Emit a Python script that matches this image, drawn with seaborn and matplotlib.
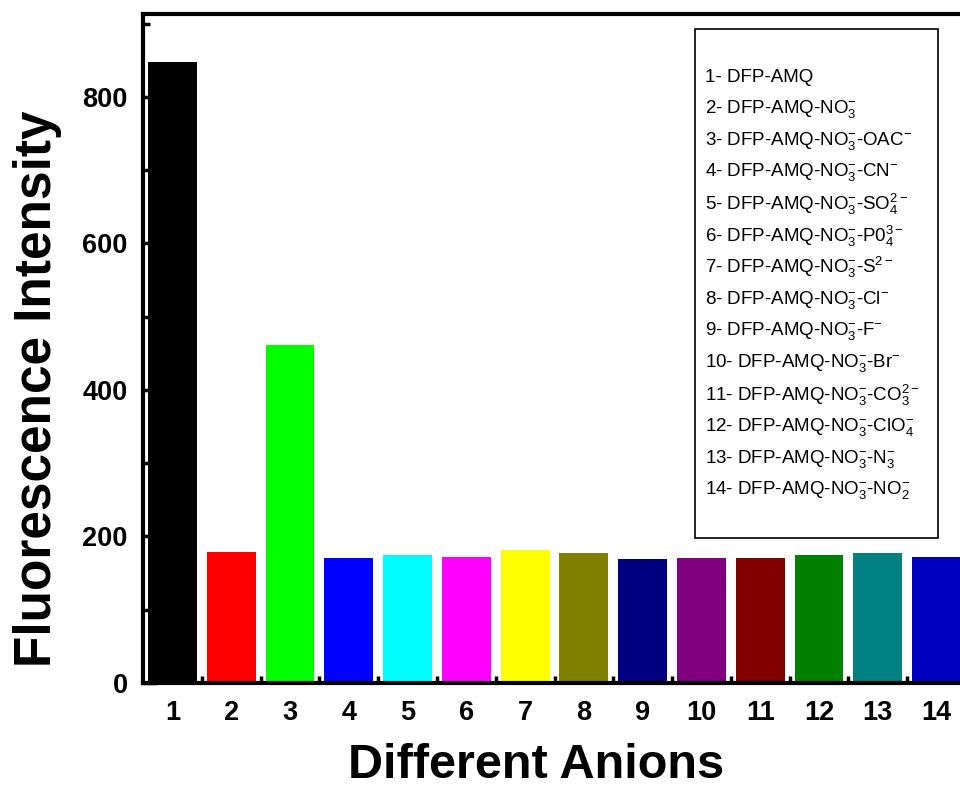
import matplotlib
matplotlib.use("Agg")
import matplotlib.pyplot as plt
import seaborn as sns
import pandas as pd
import numpy as np
from matplotlib.ticker import MultipleLocator, FixedLocator
from matplotlib.patches import Rectangle

categories = [str(i) for i in range(1, 15)]
values = [848, 179, 461, 171, 175, 172, 181, 177, 169, 171, 171, 175, 177, 172]
colors = ["#000000", "#FF0000", "#00FF00", "#0000FF", "#00FFFF", "#FF00FF",
          "#FFFF00", "#808000", "#000080", "#800080", "#800000", "#008000",
          "#008080", "#0000C0"]
legend_labels = [
    "1- DFP-AMQ",
    "2- DFP-AMQ-NO$_3^{-}$",
    "3- DFP-AMQ-NO$_3^{-}$-OAC$^{-}$",
    "4- DFP-AMQ-NO$_3^{-}$-CN$^{-}$",
    "5- DFP-AMQ-NO$_3^{-}$-SO$_4^{2-}$",
    "6- DFP-AMQ-NO$_3^{-}$-P0$_4^{3-}$",
    "7- DFP-AMQ-NO$_3^{-}$-S$^{2-}$",
    "8- DFP-AMQ-NO$_3^{-}$-Cl$^{-}$",
    "9- DFP-AMQ-NO$_3^{-}$-F$^{-}$",
    "10- DFP-AMQ-NO$_3^{-}$-Br$^{-}$",
    "11- DFP-AMQ-NO$_3^{-}$-CO$_3^{2-}$",
    "12- DFP-AMQ-NO$_3^{-}$-ClO$_4^{-}$",
    "13- DFP-AMQ-NO$_3^{-}$-N$_3^{-}$",
    "14- DFP-AMQ-NO$_3^{-}$-NO$_2^{-}$",
]

sns.set_style("white")
plt.rcParams['font.family'] = ['Liberation Sans', 'DejaVu Sans']
plt.rcParams['mathtext.fontset'] = 'custom'
plt.rcParams['mathtext.rm'] = 'Liberation Sans'
plt.rcParams['mathtext.it'] = 'Liberation Sans'
plt.rcParams['mathtext.default'] = 'regular'
plt.rcParams['text.color'] = 'black'
plt.rcParams['axes.labelcolor'] = 'black'
plt.rcParams['xtick.color'] = 'black'
plt.rcParams['ytick.color'] = 'black'

df = pd.DataFrame({"anion": categories, "intensity": values})

fig = plt.figure(figsize=(9.6, 7.87), dpi=100)
ax = fig.add_axes([143/960, 104/787, 823/960, 669/787])
sns.barplot(data=df, x="anion", y="intensity", hue="anion", palette=colors,
            legend=False, width=0.83, saturation=1, ax=ax, edgecolor="none")

ax.set_xlim(-0.5, 13.5)
ax.set_ylim(0, 913)
ax.yaxis.set_major_locator(MultipleLocator(200))
ax.yaxis.set_minor_locator(MultipleLocator(100))
ax.xaxis.set_minor_locator(FixedLocator(np.arange(0.5, 13.5, 1)))

for s in ax.spines.values():
    s.set_linewidth(3)
    s.set_color("black")
ax.tick_params(which="both", direction="in", top=False, right=False,
               bottom=True, left=True, color="black", labelcolor="black")
ax.tick_params(which="major", length=10, width=2.5, labelsize=19.5)
ax.tick_params(axis="y", which="major", pad=11)
ax.tick_params(axis="x", which="major", pad=12)
ax.tick_params(which="minor", length=5, width=2.5)
for lab in ax.get_xticklabels() + ax.get_yticklabels():
    lab.set_fontweight("bold")

ax.set_xlabel("Different Anions", fontsize=35, fontweight="bold", color="black")
ax.set_ylabel("Fluorescence Intensity", fontsize=37, fontweight="bold", color="black")
ax.xaxis.set_label_coords((536-143)/823, (683-765)/669)
ax.xaxis.label.set_va("center")
ax.yaxis.set_label_coords((38-143)/823, (683-389)/669)
ax.yaxis.label.set_va("center")

# legend box
fig.patches.append(Rectangle((695/960, 1-538/787), (938-695)/960, (538-29)/787,
                             transform=fig.transFigure, fill=True,
                             facecolor="white", edgecolor="black", linewidth=1.2,
                             zorder=5))
for i, lab in enumerate(legend_labels):
    y = 77 + i*31.8
    fig.text(705/960, 1 - y/787, lab, fontsize=13.5, va="center", ha="left",
             color="black", zorder=6)

fig.savefig("out.png", dpi=100)
